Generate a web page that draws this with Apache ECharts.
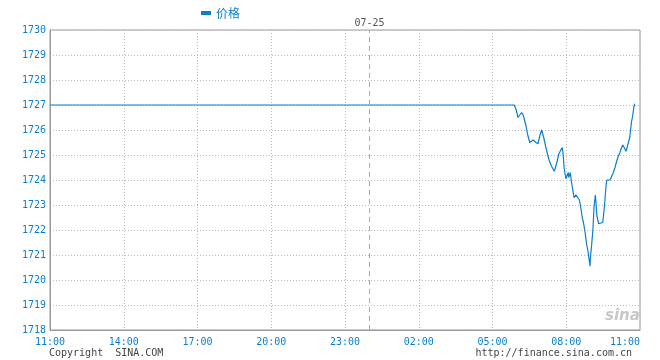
<!DOCTYPE html>
<html>
<head>
<meta charset="utf-8">
<script src="https://cdn.jsdelivr.net/npm/echarts@6/dist/echarts.min.js"></script>
<style>html,body{margin:0;padding:0;background:#fff}#c{width:660px;height:360px}</style>
</head>
<body>
<div id="c"></div>
<script>
var seriesName = '价格';
var dateLabel = '07-25';
var xTickLabels = ['11:00','14:00','17:00','20:00','23:00','02:00','05:00','08:00','11:00'];
var times = ['11:00','05:53','05:58','06:02','06:11','06:15','06:22','06:26','06:31','06:39','06:46','06:51','06:56','07:00','07:05','07:11','07:18','07:24','07:31','07:37','07:42','07:50','07:52','07:55','07:59','08:02','08:05','08:06','08:10','08:12','08:16','08:19','08:24','08:28','08:32','08:35','08:39','08:42','08:46','08:50','08:53','08:56','08:58','08:59','09:02','09:05','09:08','09:11','09:12','09:15','09:19','09:23','09:29','09:33','09:37','09:39','09:47','09:51','09:55','09:59','10:03','10:07','10:11','10:15','10:18','10:23','10:26','10:30','10:35','10:39','10:42','10:45','10:47'];
var prices = [1727,1727,1726.8,1726.5,1726.7,1726.6,1726.15,1725.8,1725.5,1725.6,1725.5,1725.45,1725.8,1726.0,1725.7,1725.25,1724.8,1724.55,1724.35,1724.7,1725.05,1725.3,1725.1,1724.45,1724.05,1724.1,1724.3,1724.1,1724.3,1724.0,1723.6,1723.3,1723.4,1723.45,1723.2,1722.95,1722.5,1722.3,1721.9,1721.4,1721.15,1720.8,1720.55,1720.9,1721.4,1722.0,1722.95,1723.4,1723.2,1722.55,1722.25,1722.3,1722.3,1722.9,1723.75,1724.0,1724.0,1724.15,1724.3,1724.5,1724.75,1724.95,1725.1,1725.3,1725.4,1725.25,1725.15,1725.4,1725.7,1726.3,1726.55,1726.9,1727.05];
var dateLineTime = '00:00';

function toMin(t){
  var p = t.split(':');
  var m = parseInt(p[0],10)*60 + parseInt(p[1],10) - 660;
  return (m + 1440) % 1440;
}
var data = times.map(function(t,i){ return [toMin(t), prices[i]]; });

var blue = '#0a7fd0';
var mono = '"DejaVu Sans Mono", "Liberation Mono", monospace';
var chart = echarts.init(document.getElementById('c'), null, {renderer:'canvas'});
chart.setOption({
  animation: false,
  legend: {
    data: [seriesName], left: 196, top: 2,
    icon: 'rect', itemWidth: 10, itemHeight: 4, itemGap: 6,
    textStyle: {color: blue, fontSize: 12, fontFamily: '"Noto Sans CJK SC", sans-serif'}
  },
  grid: {left: 50, right: 20, top: 30, bottom: 30, show: true, borderColor: '#999', borderWidth: 1, backgroundColor: 'transparent'},
  xAxis: {
    type: 'value', min: 0, max: 1440, interval: 180,
    axisLine: {show: true, lineStyle: {color: '#999'}},
    axisTick: {show: false},
    axisLabel: {
      color: blue, fontFamily: mono, fontSize: 10, margin: 7,
      alignMaxLabel: 'right',
      formatter: function(v){ return xTickLabels[Math.round(v/180)]; }
    },
    splitLine: {show: true, lineStyle: {color: '#bbb', type: [1,2]}}
  },
  yAxis: {
    type: 'value', min: 1718, max: 1730, interval: 1,
    axisLine: {show: true, lineStyle: {color: '#999'}},
    axisTick: {show: false},
    axisLabel: {color: blue, fontFamily: mono, fontSize: 10, margin: 4,
      formatter: function(v){ return String(v); }},
    splitLine: {show: true, lineStyle: {color: '#bbb', type: [1,2]}}
  },
  graphic: [
    {type: 'text', left: 49, top: 348, style: {text: 'Copyright  SINA.COM', fill: '#444', font: '10px ' + mono}},
    {type: 'text', right: 28, top: 348, style: {text: 'http://finance.sina.com.cn', fill: '#444', font: '10px ' + mono}},
    {type: 'text', left: 605, top: 309, style: {text: 'sina', fill: '#c8c8c8', font: 'italic bold 15px "DejaVu Sans", sans-serif'}}
  ],
  series: [{
    name: seriesName, type: 'line', data: data,
    showSymbol: false, symbol: 'none',
    lineStyle: {color: blue, width: 1.2},
    itemStyle: {color: blue},
    markLine: {
      silent: true, symbol: 'none',
      lineStyle: {color: '#aaa', type: [5,4], width: 1},
      label: {show: true, position: 'end', formatter: dateLabel, color: '#555', fontFamily: mono, fontSize: 10, distance: 2},
      data: [{xAxis: toMin(dateLineTime)}]
    }
  }]
});
</script>
</body>
</html>
